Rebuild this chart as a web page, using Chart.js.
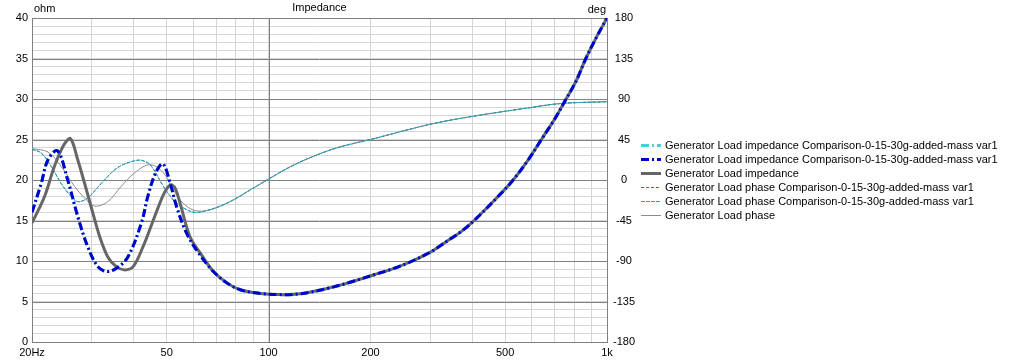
<!DOCTYPE html>
<html lang="en">
<head>
<meta charset="UTF-8">
<title>Impedance</title>
<script src="https://cdn.jsdelivr.net/npm/chart.js"></script>
<style>
  body { margin: 0; background: #fff; }
  canvas { display: block; }
</style>
</head>
<body>
<canvas id="imp" width="1013" height="360"></canvas>
<script>
// axis ticks
const xTicks = [20, 30, 40, 50, 60, 70, 80, 90, 100, 200, 300, 400, 500, 600, 700, 800, 900, 1000];
const xLabels = { 20: '20Hz', 50: '50', 100: '100', 200: '200', 500: '500', 1000: '1k' };
const degTicks = [-180, -135, -90, -45, 0, 45, 90, 135, 180];

// legend text
const seriesLabels = [
    'Generator Load impedance Comparison-0-15-30g-added-mass var1',
    'Generator Load impedance Comparison-0-15-30g-added-mass var1',
    'Generator Load impedance',
    'Generator Load phase Comparison-0-15-30g-added-mass var1',
    'Generator Load phase Comparison-0-15-30g-added-mass var1',
    'Generator Load phase'
];

// impedance (ohm) - low part differs, upper part shared by both curves
const var1ImpFreq = [20, 21.3, 22.3, 23.8, 25.5, 27.3, 29.2, 31.3, 33.3, 35.5, 38.4, 42.1, 44.0, 46.3, 48.7, 51.2, 53.5, 57.3, 62.1];
const var1ImpOhm  = [16.0, 19.6, 22.5, 23.6, 20.0, 15.5, 11.8, 9.3, 8.7, 9.1, 10.5, 14.7, 18.0, 20.8, 22.0, 19.6, 16.7, 13.4, 11.0];
const baseImpFreq = [20, 21.8, 23.3, 24.9, 26.0, 27.3, 28.6, 29.9, 31.7, 33.5, 35.5, 37.6, 39.8, 42.6, 45.7, 48.9, 50.6, 51.8, 53.2, 54.8, 58.6, 62.8];
const baseImpOhm  = [14.7, 18.0, 21.7, 24.4, 25.1, 22.5, 19.6, 16.7, 13.0, 10.5, 9.3, 8.9, 9.3, 11.8, 15.1, 18.2, 19.2, 19.4, 18.8, 17.1, 13.0, 11.0];
const highImpFreq = [68.7, 75.3, 82.5, 94.5, 108, 124, 149, 175, 205, 235, 266, 301, 312, 338, 370, 405, 475, 528, 583, 640, 700, 757, 810, 866, 930, 1000];
const highImpOhm  = [8.7, 7.3, 6.45, 6.0, 5.85, 5.95, 6.6, 7.4, 8.3, 9.1, 10.0, 11.1, 11.5, 12.5, 13.6, 15.0, 17.9, 20.0, 22.4, 25.0, 27.5, 30.0, 32.2, 35.0, 37.6, 40.0];

// phase (deg)
const var1PhaseFreq = [20, 21.3, 22.8, 24.4, 25.8, 27.3, 29.2, 32.0, 35.9, 41.1, 44.0, 45.7, 48.9, 52.3, 56.0, 60.7, 67.2, 77.0, 88.3, 100, 115, 133, 160, 200, 301, 405, 583, 731, 1000];
const var1PhaseDeg  = [34, 30, 15, -4, -16, -24, -20, -4, 14, 22, 19, 12, -7, -22, -31, -36, -33, -24, -11, 1, 14, 25, 36, 45, 62, 71, 80, 85, 87];
const basePhaseFreq = [20, 22.3, 24.4, 26.7, 28.6, 30.6, 33.5, 36.7, 40.2, 44.6, 48.9, 52.3, 56.0, 60.7, 67.2, 77.0, 88.3, 100, 115, 133, 160, 200, 301, 405, 583, 731, 1000];
const basePhaseDeg  = [35, 31, 15, -7, -20, -29, -24, -7, 8, 17, 8, -11, -26, -34, -33, -24, -11, 1, 14, 25, 36, 45, 62, 71, 80, 85, 87];

const pts = (f, v) => f.map((x, i) => ({ x: x, y: v[i] }));

const var1Imp = pts(var1ImpFreq, var1ImpOhm).concat(pts(highImpFreq, highImpOhm));
const baseImp = pts(baseImpFreq, baseImpOhm).concat(pts(highImpFreq, highImpOhm));
const var1Phase = pts(var1PhaseFreq, var1PhaseDeg);
const basePhase = pts(basePhaseFreq, basePhaseDeg);

const FAMILY = '"Liberation Sans", Arial, sans-serif';
const FONT = '11px ' + FAMILY;
const DARK = '#808080';
const LIGHT = '#d6d6d6';

// title, unit labels, major grid, frame and the legend on the right
const extras = {
    id: 'extras',
    beforeDatasetsDraw(chart) {
        const { ctx, chartArea: a, scales } = chart;
        ctx.save();
        ctx.strokeStyle = DARK;
        ctx.lineWidth = 1;
        ctx.beginPath();
        for (let v = 5; v < 40; v += 5) {
            const y = Math.round(scales.y.getPixelForValue(v)) + 0.5;
            ctx.moveTo(a.left, y);
            ctx.lineTo(a.right, y);
        }
        const x100 = Math.round(scales.x.getPixelForValue(100)) + 0.5;
        ctx.moveTo(x100, a.top);
        ctx.lineTo(x100, a.bottom);
        ctx.stroke();
        ctx.strokeRect(Math.round(a.left) + 0.5, Math.round(a.top) + 0.5, Math.round(a.right - a.left), Math.round(a.bottom - a.top));
        ctx.restore();
    },
    afterDraw(chart) {
        const { ctx, chartArea: a } = chart;
        ctx.save();
        ctx.font = FONT;
        ctx.fillStyle = '#000';
        ctx.textBaseline = 'middle';
        ctx.textAlign = 'center';
        ctx.fillText('Impedance', (a.left + a.right) / 2, 8);
        ctx.textAlign = 'left';
        ctx.fillText('ohm', 34, 9);
        ctx.textAlign = 'right';
        ctx.fillText('deg', 606, 10);

        ctx.textAlign = 'left';
        chart.data.datasets.forEach((ds, i) => {
            const y = 145 + i * 14;
            ctx.save();
            ctx.strokeStyle = ds.borderColor;
            ctx.lineWidth = ds.borderWidth;
            ctx.setLineDash(ds.borderDash || []);
            ctx.beginPath();
            ctx.moveTo(641, y + 0.5);
            ctx.lineTo(661, y + 0.5);
            ctx.stroke();
            ctx.restore();
            ctx.fillText(ds.label, 665, y + 1);
        });
        ctx.restore();
    }
};

new Chart(document.getElementById('imp'), {
    type: 'line',
    data: {
        datasets: [
            {
                label: seriesLabels[0], data: var1Imp, yAxisID: 'y', order: 1,
                borderColor: '#48d1cc', borderWidth: 3, borderDash: [8, 3, 2, 3]
            },
            {
                label: seriesLabels[1], data: var1Imp, yAxisID: 'y', order: 0,
                borderColor: '#0000cd', borderWidth: 3, borderDash: [8, 3, 2, 3]
            },
            {
                label: seriesLabels[2], data: baseImp, yAxisID: 'y', order: 2,
                borderColor: '#666666', borderWidth: 3
            },
            {
                label: seriesLabels[3], data: var1Phase, yAxisID: 'y2', order: 4,
                borderColor: '#1a9a1a', borderWidth: 1, borderDash: [3, 2]
            },
            {
                label: seriesLabels[4], data: var1Phase, yAxisID: 'y2', order: 3,
                borderColor: '#3399dd', borderWidth: 1, borderDash: [4, 1]
            },
            {
                label: seriesLabels[5], data: basePhase, yAxisID: 'y2', order: 5,
                borderColor: '#8c8c8c', borderWidth: 1
            }
        ]
    },
    options: {
        responsive: false,
        animation: false,
        layout: { padding: { top: 18, right: 366, left: 0, bottom: 0 } },
        plugins: {
            legend: { display: false },
            tooltip: { enabled: false }
        },
        elements: {
            point: { radius: 0 },
            line: { tension: 0.35, fill: false }
        },
        scales: {
            x: {
                type: 'logarithmic',
                min: 20,
                max: 1000,
                afterBuildTicks: ax => { ax.ticks = xTicks.map(v => ({ value: v })); },
                afterFit: ax => { ax.height = 18; },
                ticks: {
                    autoSkip: false, maxRotation: 0, minRotation: 0, padding: 4, color: '#000',
                    font: { family: FAMILY, size: 11 },
                    callback: v => xLabels[v] || ''
                },
                grid: { drawTicks: false, color: LIGHT },
                border: { display: false }
            },
            y: {
                position: 'left',
                min: 0,
                max: 40,
                afterBuildTicks: ax => {
                    const t = [];
                    for (let v = 0; v <= 40; v++) t.push({ value: v });
                    ax.ticks = t;
                },
                afterFit: ax => { ax.width = 32; },
                ticks: {
                    autoSkip: false, padding: 4, color: '#000',
                    font: { family: FAMILY, size: 11 },
                    callback: v => (v % 5 === 0 ? String(v) : '')
                },
                grid: { drawTicks: false, color: LIGHT },
                border: { display: false }
            },
            y2: {
                position: 'right',
                min: -180,
                max: 180,
                afterBuildTicks: ax => { ax.ticks = degTicks.map(v => ({ value: v })); },
                afterFit: ax => { ax.width = 40; },
                ticks: {
                    autoSkip: false, padding: 6, crossAlign: 'center', color: '#000',
                    font: { family: FAMILY, size: 11 }
                },
                grid: { drawOnChartArea: false, drawTicks: false },
                border: { display: false }
            }
        }
    },
    plugins: [extras]
});
</script>
</body>
</html>
